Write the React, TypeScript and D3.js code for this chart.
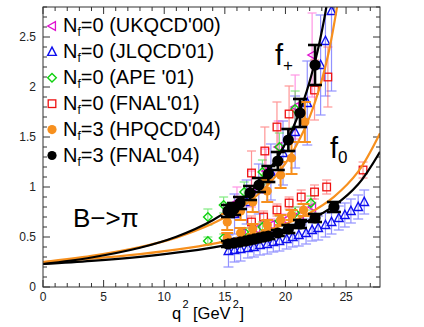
import React from "react";
import * as d3 from "d3";

// ---------- data ----------
const xTicks = [0, 5, 10, 15, 20, 25];
const yTicks = [0, 0.5, 1, 1.5, 2, 2.5];
const yTickLabels = ["0", "0.5", "1", "1.5", "2", "2.5"];

// fit curves: [q2, f]
const blackFplus: [number, number][] = [
  [0, 0.23], [4, 0.295], [8, 0.392], [11, 0.502], [14, 0.667], [16, 0.831], [18, 1.068],
  [19.5, 1.326], [20.5, 1.557], [21.5, 1.863], [22.5, 2.283], [23.2, 2.68], [23.8, 3.12],
];
const blackFzero: [number, number][] = [
  [0, 0.23], [4, 0.261], [8, 0.302], [12, 0.358], [15, 0.417], [18, 0.497], [20, 0.571],
  [22, 0.67], [24, 0.811], [26, 1.027], [27.8, 1.352],
];
const orangeFplus: [number, number][] = [
  [0, 0.25], [4, 0.311], [8, 0.399], [11, 0.494], [14, 0.634], [16, 0.767], [18, 0.955],
  [20, 1.237], [21.5, 1.56], [22.5, 1.87], [23.5, 2.31], [24.5, 2.98],
];
const orangeFzero: [number, number][] = [
  [0, 0.25], [4, 0.284], [8, 0.329], [12, 0.391], [15, 0.456], [18, 0.546], [20, 0.629],
  [22, 0.741], [24, 0.902], [26, 1.153], [27.8, 1.537],
];

// data points: [q2, f, error]
const ukqcdPlus: [number, number, number][] = [
  [16.0, 0.85, 0.15], [17.2, 0.98, 0.18], [18.4, 1.16, 0.22], [19.4, 1.4, 0.26], [20.8, 1.8, 0.32], [22.2, 2.32, 0.42],
];
const ukqcdZero: [number, number, number][] = [
  [16.4, 0.54, 0.05], [17.6, 0.58, 0.05], [18.8, 0.62, 0.06], [20.0, 0.67, 0.06], [21.2, 0.73, 0.07], [22.2, 0.8, 0.08],
];
const jlqcdPlus: [number, number, number][] = [
  [15.8, 0.73, 0.2], [16.8, 0.85, 0.22], [17.8, 0.98, 0.25], [18.8, 1.15, 0.28], [19.8, 1.34, 0.32],
  [20.8, 1.55, 0.36], [21.8, 1.84, 0.42], [22.9, 2.22, 0.5], [23.3, 2.46, 0.55], [23.8, 2.76, 0.8],
];
const jlqcdZero: [number, number, number][] = [
  [15.3, 0.36, 0.16], [15.8, 0.37, 0.12], [16.3, 0.38, 0.12], [16.9, 0.39, 0.1], [17.4, 0.4, 0.1], [17.9, 0.42, 0.1],
  [18.5, 0.43, 0.1], [19.0, 0.45, 0.1], [19.5, 0.46, 0.1], [20.1, 0.48, 0.1], [20.6, 0.5, 0.1], [21.1, 0.52, 0.11],
  [21.7, 0.54, 0.11], [22.2, 0.57, 0.11], [22.7, 0.59, 0.12], [23.3, 0.62, 0.12], [23.8, 0.65, 0.12], [24.4, 0.69, 0.12],
  [24.9, 0.72, 0.12], [25.4, 0.76, 0.12], [26.0, 0.8, 0.12], [26.5, 0.85, 0.12],
];
const apePlus: [number, number, number][] = [
  [13.6, 0.7, 0.08], [14.9, 0.82, 0.08], [16.6, 0.95, 0.1], [18.1, 1.15, 0.12], [19.5, 1.4, 0.14], [20.8, 1.78, 0.18],
];
const apeZero: [number, number, number][] = [
  [13.6, 0.46, 0.04], [14.9, 0.49, 0.04], [16.6, 0.55, 0.04], [18.1, 0.6, 0.05], [19.5, 0.66, 0.05], [20.8, 0.74, 0.06], [22.1, 0.84, 0.07],
];
const fnal01Plus: [number, number, number][] = [
  [17.2, 1.14, 0.22], [18.3, 1.36, 0.24], [19.3, 1.6, 0.25], [20.3, 1.73, 0.28], [22.4, 1.97, 0.3], [23.5, 2.1, 0.3],
];
const fnal01Zero: [number, number, number][] = [
  [17.2, 0.65, 0.06], [18.2, 0.7, 0.06], [19.3, 0.77, 0.06], [20.3, 0.84, 0.06], [21.3, 0.9, 0.07],
  [22.4, 0.95, 0.07], [23.4, 1.0, 0.07], [26.4, 1.17, 0.08],
];
const hpqcdPlus: [number, number, number][] = [
  [15.2, 0.65, 0.08], [16.3, 0.76, 0.09], [17.3, 0.85, 0.1], [18.5, 0.96, 0.11], [19.6, 1.12, 0.13], [20.5, 1.29, 0.16], [21.6, 1.65, 0.2],
];
const hpqcdZero: [number, number, number][] = [
  [15.2, 0.49, 0.05], [16.3, 0.54, 0.05], [17.3, 0.58, 0.05], [18.5, 0.62, 0.05], [19.6, 0.67, 0.05], [20.5, 0.72, 0.05], [21.5, 0.77, 0.06],
];
const fnal04Plus: [number, number, number][] = [
  [15.26, 0.76, 0.06], [15.76, 0.78, 0.06], [16.25, 0.84, 0.06], [17.08, 0.94, 0.07], [17.82, 1.02, 0.07],
  [18.59, 1.13, 0.08], [19.37, 1.26, 0.09], [20.24, 1.47, 0.11], [21.2, 1.74, 0.14], [22.44, 2.22, 0.2],
];
const fnal04Zero: [number, number, number][] = [
  [15.26, 0.43, 0.03], [15.76, 0.44, 0.03], [16.25, 0.45, 0.03], [16.7, 0.46, 0.03], [17.08, 0.47, 0.03],
  [17.45, 0.48, 0.03], [17.82, 0.49, 0.03], [18.2, 0.5, 0.03], [18.59, 0.51, 0.03], [19.37, 0.54, 0.03],
  [20.24, 0.58, 0.04], [21.2, 0.63, 0.04], [22.44, 0.69, 0.04], [24.0, 0.8, 0.05],
];

const legendLabels = [
  ["0", "(UKQCD'00)"],
  ["0", "(JLQCD'01)"],
  ["0", "(APE '01)"],
  ["0", "(FNAL'01)"],
  ["3", "(HPQCD'04)"],
  ["3", "(FNAL'04)"],
];

// ---------- layout ----------
const W = 424, H = 327;
const L = 43, R = 380, T = 7, B = 287;
const x = d3.scaleLinear().domain([0, 27.8]).range([L, R]);
const y = d3.scaleLinear().domain([0, 2.8]).range([B, T]);
const FONT = "'Liberation Sans', Arial, sans-serif";

const line = d3.line<[number, number]>().x(d => x(d[0])).y(d => y(d[1])).curve(d3.curveCatmullRom);

type Kind = "tri-left" | "tri-up" | "diamond" | "square" | "dot" | "bigdot";

function marker(kind: Kind, cx: number, cy: number, color: string, key: string) {
  const s = 4.3;
  switch (kind) {
    case "tri-left":
      return <polygon key={key} points={`${cx - s},${cy} ${cx + s * 0.8},${cy - s} ${cx + s * 0.8},${cy + s}`} fill="none" stroke={color} strokeWidth={1.3} />;
    case "tri-up":
      return <polygon key={key} points={`${cx},${cy - s - 0.5} ${cx - s},${cy + s * 0.8} ${cx + s},${cy + s * 0.8}`} fill="none" stroke={color} strokeWidth={1.4} />;
    case "diamond":
      return <polygon key={key} points={`${cx},${cy - s} ${cx + s},${cy} ${cx},${cy + s} ${cx - s},${cy}`} fill="none" stroke={color} strokeWidth={1.4} />;
    case "square":
      return <rect key={key} x={cx - 3.8} y={cy - 3.8} width={7.6} height={7.6} fill="none" stroke={color} strokeWidth={1.3} />;
    case "dot":
      return <circle key={key} cx={cx} cy={cy} r={4.6} fill={color} />;
    case "bigdot":
      return <circle key={key} cx={cx} cy={cy} r={5.6} fill={color} />;
  }
}

interface Series {
  name: string;
  kind: Kind;
  color: string;
  errColor: string;
  errWidth: number;
  errOpacity: number;
  cap: number;
  pts: [number, number, number][];
}

const lightSeries: Series[] = [
  { name: "jlp", kind: "tri-up", color: "#1010ee", errColor: "#3a3aff", errWidth: 1.2, errOpacity: 0.55, cap: 10, pts: jlqcdPlus },
  { name: "jlz", kind: "tri-up", color: "#1010ee", errColor: "#3a3aff", errWidth: 1.2, errOpacity: 0.55, cap: 10, pts: jlqcdZero },
  { name: "ukp", kind: "tri-left", color: "#e010d0", errColor: "#ff40d0", errWidth: 1.2, errOpacity: 0.55, cap: 9, pts: ukqcdPlus },
  { name: "ukz", kind: "tri-left", color: "#e010d0", errColor: "#ff40d0", errWidth: 1.2, errOpacity: 0.55, cap: 9, pts: ukqcdZero },
  { name: "apep", kind: "diamond", color: "#10d010", errColor: "#30e030", errWidth: 1.2, errOpacity: 0.6, cap: 9, pts: apePlus },
  { name: "apez", kind: "diamond", color: "#10d010", errColor: "#30e030", errWidth: 1.2, errOpacity: 0.6, cap: 9, pts: apeZero },
  { name: "fnp", kind: "square", color: "#ee1010", errColor: "#ff4040", errWidth: 1.2, errOpacity: 0.55, cap: 9, pts: fnal01Plus },
  { name: "fnz", kind: "square", color: "#ee1010", errColor: "#ff4040", errWidth: 1.2, errOpacity: 0.55, cap: 9, pts: fnal01Zero },
];
const orangeSeries: Series[] = [
  { name: "hpp", kind: "dot", color: "#f7901e", errColor: "#f7901e", errWidth: 2, errOpacity: 1, cap: 12, pts: hpqcdPlus },
  { name: "hpz", kind: "dot", color: "#f7901e", errColor: "#f7901e", errWidth: 2, errOpacity: 1, cap: 12, pts: hpqcdZero },
];
const blackSeries: Series[] = [
  { name: "f4p", kind: "bigdot", color: "#000", errColor: "#000", errWidth: 2.6, errOpacity: 1, cap: 14, pts: fnal04Plus },
  { name: "f4z", kind: "bigdot", color: "#000", errColor: "#000", errWidth: 2.6, errOpacity: 1, cap: 14, pts: fnal04Zero },
];

function renderErrors(s: Series) {
  return (
    <g key={s.name + "-err"} stroke={s.errColor} strokeWidth={s.errWidth} opacity={s.errOpacity} fill="none">
      {s.pts.map((p, i) => {
        const cx = x(p[0]);
        const y1 = y(p[1] + p[2]);
        const y2 = y(p[1] - p[2]);
        return (
          <g key={i}>
            <line x1={cx} x2={cx} y1={y1} y2={y2} />
            <line x1={cx - s.cap / 2} x2={cx + s.cap / 2} y1={y1} y2={y1} />
            <line x1={cx - s.cap / 2} x2={cx + s.cap / 2} y1={y2} y2={y2} />
          </g>
        );
      })}
    </g>
  );
}
function renderMarkers(s: Series) {
  return <g key={s.name + "-m"}>{s.pts.map((p, i) => marker(s.kind, x(p[0]), y(p[1]), s.color, s.name + i))}</g>;
}

export default function App() {
  const minorX = d3.range(0, 28, 1);
  const minorY = d3.range(0, 2.81, 0.1);
  const legendKinds: [Kind, string][] = [
    ["tri-left", "#e010d0"], ["tri-up", "#1010ee"], ["diamond", "#10d010"],
    ["square", "#ee1010"], ["dot", "#f7901e"], ["dot", "#000"],
  ];
  return (
    <svg width={W} height={H} style={{ position: "absolute", left: 0, top: 0, background: "#fff" }} fontFamily={FONT}>
      <defs>
        <clipPath id="plot">
          <rect x={L} y={T} width={R - L} height={B - T} />
        </clipPath>
      </defs>
      <rect x={0} y={0} width={W} height={H} fill="#fff" />

      {/* ticks */}
      <g stroke="#333" strokeWidth={1}>
        {minorX.map(v => {
          const big = v % 5 === 0;
          const len = big ? 7 : 4;
          return (
            <g key={"mx" + v}>
              <line x1={x(v)} x2={x(v)} y1={B} y2={B - len} />
              <line x1={x(v)} x2={x(v)} y1={T} y2={T + len} />
            </g>
          );
        })}
        {minorY.map((v, i) => {
          const big = i % 5 === 0;
          const len = big ? 7 : 4;
          return (
            <g key={"my" + i}>
              <line x1={L} x2={L + len} y1={y(v)} y2={y(v)} />
              <line x1={R} x2={R - len} y1={y(v)} y2={y(v)} />
            </g>
          );
        })}
      </g>

      {/* tick labels */}
      <g fontSize={12} fill="#222">
        {xTicks.map(v => (
          <text key={"xt" + v} x={x(v)} y={301} textAnchor="middle">{v}</text>
        ))}
        {yTicks.map((v, i) => (
          <text key={"yt" + v} x={36} y={y(v) + 4} textAnchor="end">{yTickLabels[i]}</text>
        ))}
      </g>

      <g clipPath="url(#plot)">
        {lightSeries.map(renderErrors)}
        {lightSeries.map(renderMarkers)}
        <path d={line(orangeFplus) || ""} fill="none" stroke="#f7901e" strokeWidth={2.2} />
        <path d={line(orangeFzero) || ""} fill="none" stroke="#f7901e" strokeWidth={2.2} />
        <path d={line(blackFplus) || ""} fill="none" stroke="#000" strokeWidth={2.2} />
        <path d={line(blackFzero) || ""} fill="none" stroke="#000" strokeWidth={2.2} />
        {orangeSeries.map(renderErrors)}
        {orangeSeries.map(renderMarkers)}
        {blackSeries.map(renderErrors)}
        {blackSeries.map(renderMarkers)}
      </g>

      {/* frame */}
      <rect x={L} y={T} width={R - L} height={B - T} fill="none" stroke="#333" strokeWidth={1} />

      {/* legend */}
      {legendLabels.map((lab, i) => {
        const by = 32 + i * 25.9;
        const [k, c] = legendKinds[i];
        return (
          <g key={"lg" + i}>
            {marker(k, 52, by - 6, c, "lgm" + i)}
            <text x={63} y={by} fontSize={20} fill="#000">
              N<tspan fontSize={12} dy={4}>f</tspan>
              <tspan dy={-4}>={lab[0]} {lab[1]}</tspan>
            </text>
          </g>
        );
      })}

      {/* annotations */}
      <text x={73} y={227} fontSize={26} fill="#000">B−&gt;π</text>
      <text x={275} y={65} fontSize={29} fill="#000">f<tspan fontSize={17} dy={6}>+</tspan></text>
      <text x={330} y={158} fontSize={29} fill="#000">f<tspan fontSize={17} dy={5}>0</tspan></text>

      {/* x title: q^2 [GeV^2] */}
      <g fill="#000">
        <text x={172} y={319} fontSize={16.5}>q</text>
        <text x={182.5} y={308} fontSize={11}>2</text>
        <text x={193} y={319} fontSize={16.5}>[GeV</text>
        <text x={232.8} y={308} fontSize={11}>2</text>
        <text x={239.5} y={319} fontSize={16.5}>]</text>
      </g>
    </svg>
  );
}
